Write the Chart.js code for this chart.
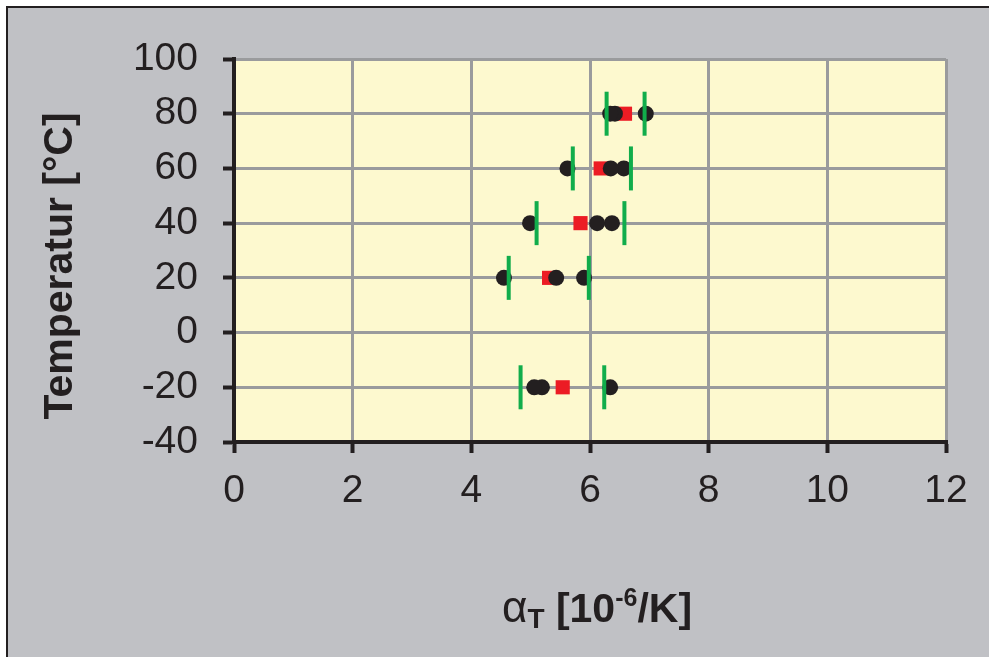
<!DOCTYPE html>
<html>
<head>
<meta charset="utf-8">
<script src="https://cdn.jsdelivr.net/npm/chart.js@4/dist/chart.umd.min.js"></script>
<style>
  html, body { margin: 0; padding: 0; background: #ffffff; }
  canvas { display: block; }
</style>
</head>
<body>
<canvas id="c" width="989" height="657"></canvas>
<script>
// Temperature levels (°C) at which the expansion coefficient was measured
const temperatures = [80, 60, 40, 20, -20];

// Individual measurements alpha_T [10^-6/K], three specimens per temperature
const specimenA = [6.34, 5.62, 4.99, 4.55, 5.06];
const specimenB = [6.42, 6.35, 6.12, 5.43, 5.19];
const specimenC = [6.94, 6.57, 6.37, 5.90, 6.34];

// Mean value per temperature
const meanValues = [6.59, 6.18, 5.84, 5.31, 5.54];

// Scatter band (lower / upper limit) per temperature
const lowerLimit = [6.28, 5.71, 5.10, 4.63, 4.83];
const upperLimit = [6.92, 6.69, 6.58, 5.98, 6.24];

// Axis ticks
const xTicks = [0, 2, 4, 6, 8, 10, 12];
const yTicks = [-40, -20, 0, 20, 40, 60, 80, 100];

const INK = '#231f20';
const GRID = '#9a9b9d';
const FONT = '"Liberation Sans", Arial, sans-serif';

const pairs = (xs) => xs.map((x, i) => ({ x: x, y: temperatures[i] }));

// Page frame, grey backdrop and yellow plot area
const backdrop = {
  id: 'backdrop',
  beforeDraw(chart) {
    const { ctx, width, height, chartArea: a } = chart;
    ctx.save();
    ctx.fillStyle = '#ffffff';
    ctx.fillRect(0, 0, width, height);
    ctx.fillStyle = '#c0c1c5';
    ctx.fillRect(7, 7, width - 7, height - 7);
    ctx.fillStyle = INK;
    ctx.fillRect(6, 6, width - 6, 2);
    ctx.fillRect(6, 6, 2, height - 6);
    ctx.fillStyle = '#fdf9cf';
    ctx.fillRect(a.left, a.top, a.right - a.left, a.bottom - a.top);
    ctx.restore();
  }
};

// Axis titles: x title carries a subscript and a superscript
const axisTitles = {
  id: 'axisTitles',
  afterDraw(chart) {
    const { ctx } = chart;
    ctx.save();
    ctx.fillStyle = INK;

    // y axis title, rotated
    ctx.save();
    ctx.translate(61, 266);
    ctx.rotate(-Math.PI / 2);
    ctx.font = 'bold 41px ' + FONT;
    ctx.textAlign = 'center';
    ctx.textBaseline = 'middle';
    ctx.fillText('Temperatur [°C]', 0, 0);
    ctx.restore();

    const parts = [
      { t: '\u03b1', font: '44px ' + FONT, dy: 0 },
      { t: 'T', font: 'bold 28px ' + FONT, dy: 6 },
      { t: ' [10', font: 'bold 41px ' + FONT, dy: 0 },
      { t: '-6', font: 'bold 25px ' + FONT, dy: -16 },
      { t: '/K]', font: 'bold 41px ' + FONT, dy: 0 }
    ];
    ctx.textBaseline = 'alphabetic';
    ctx.textAlign = 'left';
    let total = 0;
    parts.forEach(p => { ctx.font = p.font; p.w = ctx.measureText(p.t).width; total += p.w; });
    let x = 597 - total / 2;
    const base = 622;
    parts.forEach(p => { ctx.font = p.font; ctx.fillText(p.t, x, base + p.dy); x += p.w; });
    ctx.restore();
  }
};

const dot = (data) => ({
  data: pairs(data),
  pointStyle: 'circle',
  pointRadius: 8,
  pointHoverRadius: 8,
  backgroundColor: INK,
  borderColor: INK,
  borderWidth: 0,
  showLine: false
});

const bar = (data) => ({
  data: pairs(data),
  pointStyle: 'line',
  rotation: 90,
  pointRadius: 22,
  pointHoverRadius: 22,
  borderColor: '#11ad4b',
  backgroundColor: '#11ad4b',
  borderWidth: 4,
  showLine: false
});

new Chart(document.getElementById('c'), {
  type: 'scatter',
  data: {
    datasets: [
      bar(lowerLimit),
      bar(upperLimit),
      dot(specimenA),
      dot(specimenB),
      dot(specimenC),
      {
        data: pairs(meanValues),
        pointStyle: 'rect',
        pointRadius: 10,
        pointHoverRadius: 10,
        backgroundColor: '#ec1c24',
        borderColor: '#ec1c24',
        borderWidth: 0,
        showLine: false
      }
    ]
  },
  options: {
    responsive: false,
    animation: false,
    devicePixelRatio: 1,
    layout: { padding: { left: 0, top: 59, right: 43, bottom: 0 } },
    plugins: {
      legend: { display: false },
      tooltip: { enabled: false },
      title: { display: false }
    },
    scales: {
      x: {
        type: 'linear',
        min: 0,
        max: 12,
        afterFit(scale) { scale.height = 215; },
        afterBuildTicks(scale) { scale.ticks = xTicks.map(v => ({ value: v })); },
        ticks: {
          color: INK,
          font: { family: FONT, size: 39 },
          padding: 15
        },
        grid: {
          color: GRID,
          lineWidth: 3,
          drawTicks: true,
          tickLength: 11,
          tickWidth: 4,
          tickColor: INK
        },
        border: { display: true, color: INK, width: 4 }
      },
      y: {
        type: 'linear',
        min: -40,
        max: 100,
        afterFit(scale) { scale.width = 234; },
        afterBuildTicks(scale) { scale.ticks = yTicks.map(v => ({ value: v })); },
        ticks: {
          color: INK,
          font: { family: FONT, size: 39 },
          padding: 25
        },
        grid: {
          color: GRID,
          lineWidth: 3,
          drawTicks: true,
          tickLength: 11,
          tickWidth: 4,
          tickColor: INK
        },
        border: { display: true, color: INK, width: 4 }
      }
    }
  },
  plugins: [backdrop, axisTitles]
});
</script>
</body>
</html>
